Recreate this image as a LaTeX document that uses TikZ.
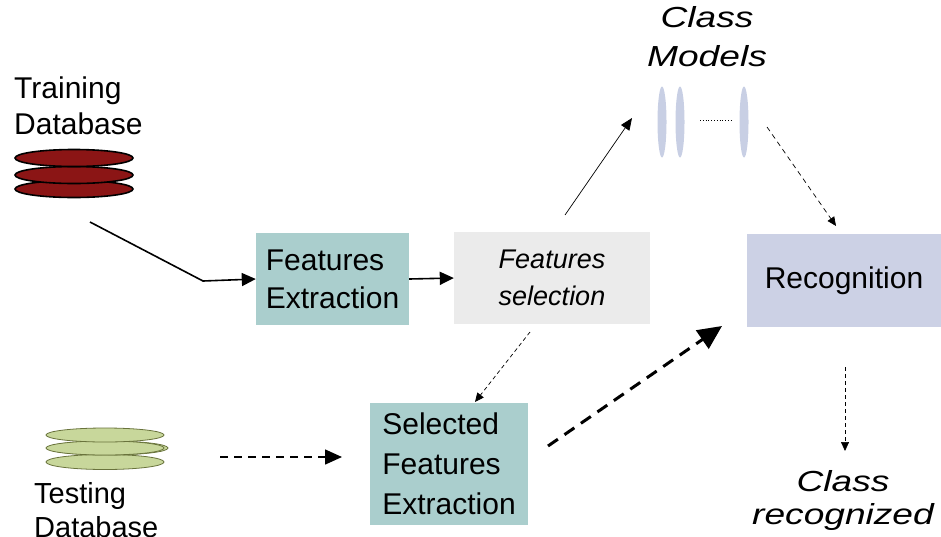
\documentclass[tikz,border=0pt]{standalone}
\usepackage{fontspec}
\setmainfont{Liberation Sans}
\newfontfamily\widesans{Liberation Sans}[FakeStretch=1.28]
\usepackage{xcolor}
\usetikzlibrary{calc, arrows.meta}
\definecolor{tealbox}{RGB}{170,206,205}
\definecolor{greybox}{RGB}{235,235,235}
\definecolor{lavbox}{RGB}{204,209,229}
\definecolor{modelcol}{RGB}{200,207,228}
\definecolor{trainred}{RGB}{139,21,21}
\definecolor{testolive}{RGB}{200,215,155}
\definecolor{testline}{RGB}{105,115,60}
\tikzstyle{arrow}    = [line width=1.6pt,-{Triangle[length=14pt,width=13pt]}]
\tikzstyle{thinarrow} = [line width=0.7pt,-{Triangle[length=9pt,width=8pt]}]

\begin{document}
\begin{tikzpicture}[
    x=1pt, y=-1pt,
    box/.style={rectangle, inner sep=0pt, align=left, font=\fontsize{30}{38}\selectfont},
    label/.style={inner sep=0pt, align=left, font=\fontsize{30}{36}\selectfont},
    classlbl/.style={inner sep=0pt, align=center, font=\widesans\itshape\fontsize{29}{39}\selectfont},
    trdisk/.style={fill=trainred, draw=black, line width=1.6pt},
    tsdisk/.style={fill=testolive, draw=testline, line width=0.8pt},
  ]
  \useasboundingbox (0,0) rectangle (941,536);
  \node[label, anchor=west] (traindb) at (14,106) {Training\\Database};
  \foreach \yy in {189,175,158}
    \draw[trdisk] (74,\yy) ellipse (59 and 8.5);
  \node[label, anchor=west, font=\fontsize{29}{34}\selectfont] (testdb) at (34,510) {Testing\\Database};
  \draw[tsdisk] (105,462) ellipse (59 and 7.5);
  \draw[tsdisk] (108,448) ellipse (60 and 7);
  \draw[tsdisk] (105,448) ellipse (59 and 7);
  \draw[tsdisk] (105,435) ellipse (59 and 7);

  \node[box, fill=tealbox, minimum width=153pt, minimum height=92pt] (featext) at (332.5,279) {Features\\Extraction};
  \node[box, fill=greybox, minimum width=196pt, minimum height=92pt, align=center,
        font=\itshape\fontsize{27}{37}\selectfont] (featsel) at (552,278) {Features\\selection};
  \node[box, fill=tealbox, minimum width=158pt, minimum height=122pt,
        font=\fontsize{30}{40}\selectfont] (selext) at (449,464) {Selected\\Features\\Extraction};
  \node[box, fill=lavbox, minimum width=194pt, minimum height=93pt] (recog) at (844,280.5) {Recognition};

  \node[classlbl] (models) at (707,37) {Class\\Models};
  \foreach \xx in {662,680,744}
    \fill[modelcol] (\xx,122) ellipse (4.5 and 35.5);
  \draw[line width=0.8pt, dotted] (700,120) -- (731,120);
  \node[classlbl, font=\widesans\itshape\fontsize{29}{33}\selectfont] (classrec) at (843,500) {Class\\recognized};

  \coordinate (trout) at (90,222);
  \coordinate (selup) at (565,215);
  \coordinate (modin) at (632,118);
  \coordinate (modout) at (767,127);
  \coordinate (recin) at (836,226);
  \coordinate (seldown) at (530,332);
  \coordinate (selextin) at (475,402);
  \coordinate (testout) at (220,457);
  \coordinate (testin) at (342,457);
  \coordinate (selextout) at (548,446);
  \coordinate (recin2) at (722,326);
  \coordinate (recout) at (845,367);
  \coordinate (classin) at (845,451);

  \draw[arrow] (trout) -- ++(113,59) -- (featext.west);
  \draw[arrow] (featext.east) -- (featsel.west);
  \draw[thinarrow, -{Triangle[length=12pt,width=10pt]}] (selup) -- (modin);
  \draw[thinarrow, dash pattern=on 5pt off 4pt] (modout) -- (recin);
  \draw[thinarrow, dash pattern=on 4pt off 3pt] (seldown) -- (selextin);
  \draw[line width=1.5pt, dash pattern=on 8pt off 6pt, -{Triangle[length=17pt,width=15pt]}] (testout) -- (testin);
  \draw[line width=3pt, dash pattern=on 12pt off 8pt, -{Triangle[length=24pt,width=22pt]}] (selextout) -- (recin2);
  \draw[thinarrow, dash pattern=on 4pt off 3pt] (recout) -- (classin);
\end{tikzpicture}
\end{document}
